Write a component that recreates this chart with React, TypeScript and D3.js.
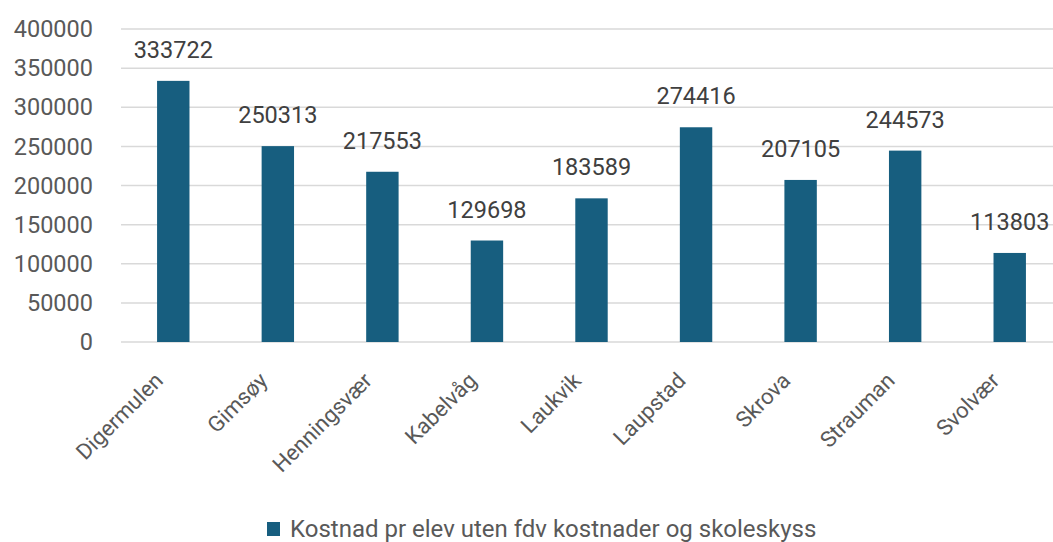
import React from "react";
import * as d3 from "d3";

const categories = [
  "Digermulen",
  "Gimsøy",
  "Henningsvær",
  "Kabelvåg",
  "Laukvik",
  "Laupstad",
  "Skrova",
  "Strauman",
  "Svolvær",
];
const values = [333722, 250313, 217553, 129698, 183589, 274416, 207105, 244573, 113803];
const yTicks = [0, 50000, 100000, 150000, 200000, 250000, 300000, 350000, 400000];
const seriesName = "Kostnad pr elev uten fdv kostnader og skoleskyss";

const width = 1053,
  height = 542;
const barColor = "#175e7f";
const font = "Roboto, 'Open Sans', sans-serif";

export default function App(): JSX.Element {
  const x = d3.scaleBand().domain(categories).range([121, 1062]).paddingInner(0.69).paddingOuter(0.345);
  const y = d3.scaleLinear().domain([0, 400000]).range([342, 29]);

  return (
    <div style={{ position: "absolute", left: 0, top: 0 }}>
      <svg width={width} height={height} style={{ display: "block", background: "#fff" }} fontFamily={font}>
        <g>
          {yTicks.map((t) => (
            <g key={t}>
              <line x1={121} x2={width} y1={y(t)} y2={y(t)} stroke="#d9d9d9" strokeWidth={1.5} />
              <text x={93} y={y(t)} dy="0.35em" textAnchor="end" fontSize={23.5} fill="#595959">
                {t}
              </text>
            </g>
          ))}
        </g>
        <g>
          {categories.map((c, i) => {
            const bx = x(c) as number;
            const cx = bx + x.bandwidth() / 2;
            return (
              <g key={c}>
                <rect x={bx} y={y(values[i])} width={x.bandwidth()} height={y(0) - y(values[i])} fill={barColor} />
                <text x={cx} y={y(values[i]) - 23} textAnchor="middle" fontSize={23.5} fill="#404040">
                  {values[i]}
                </text>
                <text
                  transform={`translate(${cx - 9},${382}) rotate(-45)`}
                  textAnchor="end"
                  fontSize={22}
                  fill="#595959"
                >
                  {c}
                </text>
              </g>
            );
          })}
        </g>
        <g transform="translate(267,522)">
          <rect x={0} y={0} width={13} height={14} fill={barColor} />
          <text x={23} y={7} dy="0.35em" fontSize={24} fill="#595959">
            {seriesName}
          </text>
        </g>
      </svg>
    </div>
  );
}
